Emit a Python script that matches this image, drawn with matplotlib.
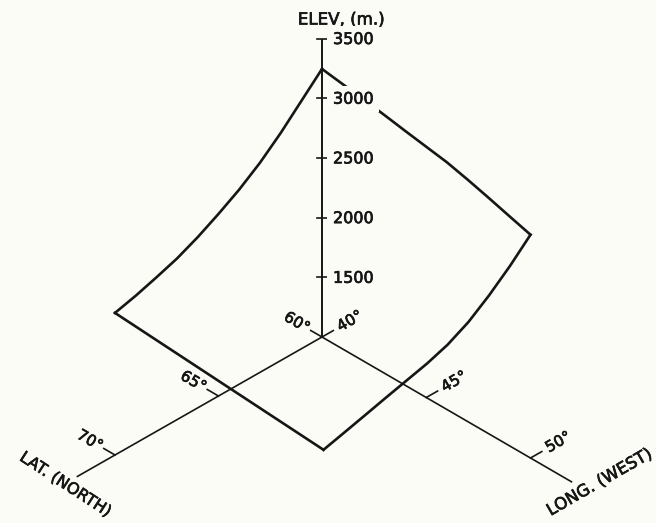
import numpy as np
import matplotlib.pyplot as plt
import matplotlib.patheffects as pe

# axis ticks
lat_ticks = [60, 65, 70]
long_ticks = [40, 45, 50]
elev_ticks = [1500, 2000, 2500, 3000, 3500]

# surface edges (lat N, long W, elevation m)
west_lat = [70, 69, 68, 67, 66, 65, 64, 63, 62, 61, 60]
west_elev = [2190, 2235, 2290, 2350, 2430, 2525, 2630, 2755, 2905, 3075, 3245]

north_long = [40, 41, 42, 43, 44, 45, 46, 47, 48, 49, 50]
north_elev = [3245, 3218, 3192, 3162, 3130, 3100, 3070, 3025, 2975, 2922, 2870]

east_lat = [60, 61, 62, 63, 64, 65, 66, 67, 68, 69, 70]
east_elev = [2870, 2705, 2560, 2435, 2345, 2285, 2240, 2195, 2148, 2102, 2057]

south_long = [50, 40]
south_elev = [2057, 2190]

LAT0, LONG0, ELEV0 = 60, 40, 1000
LAT_END, LONG_END, ELEV_END = 71.85, 52.0, 3500

# oblique projection (figure pixels)
ORIGIN = np.array([322.0, 337.0])
LAT_VEC = np.array([-20.7, 11.8])
LONG_VEC = np.array([20.85, 12.1])
ELEV_VEC = np.array([0.0, -0.1194])


def proj(lat, lon, elev):
    lat = np.asarray(lat, float)
    lon = np.asarray(lon, float)
    elev = np.asarray(elev, float)
    x = ORIGIN[0] + LAT_VEC[0] * (lat - LAT0) + LONG_VEC[0] * (lon - LONG0) + ELEV_VEC[0] * (elev - ELEV0)
    y = ORIGIN[1] + LAT_VEC[1] * (lat - LAT0) + LONG_VEC[1] * (lon - LONG0) + ELEV_VEC[1] * (elev - ELEV0)
    return x, y


ink = '#161616'
bg = '#fcfcf7'
heavy = [pe.withStroke(linewidth=0.5, foreground=ink)]

fig = plt.figure(figsize=(6.56, 5.23), dpi=100, facecolor=bg)
ax = fig.add_axes([0, 0, 1, 1])
ax.set_xlim(0, 656)
ax.set_ylim(523, 0)
ax.axis('off')
ax.set_facecolor(bg)

# --- axes ---
axis_lw = 1.2
x, y = proj([LAT0, LAT_END], [LONG0, LONG0], [ELEV0, ELEV0])
ax.plot(x, y, color=ink, lw=axis_lw, solid_capstyle='butt')
x, y = proj([LAT0, LAT0], [LONG0, LONG_END], [ELEV0, ELEV0])
ax.plot(x, y, color=ink, lw=axis_lw, solid_capstyle='butt')
x, y = proj([LAT0, LAT0], [LONG0, LONG0], [ELEV0, ELEV_END])
ax.plot(x, y, color=ink, lw=axis_lw + 0.2, solid_capstyle='butt')

# elevation ticks
for e in elev_ticks:
    x, y = proj(LAT0, LONG0, e)
    ax.plot([x - 5.5, x + 5.5], [y, y], color=ink, lw=axis_lw)
    ax.text(x + 11, y + 1, str(e), fontsize=11.5, color=ink, ha='left', va='center',
            zorder=5, path_effects=heavy,
            bbox=dict(boxstyle='square,pad=0.35', fc=bg, ec='none'))

long_dir = LONG_VEC / np.linalg.norm(LONG_VEC)
lat_dir = LAT_VEC / np.linalg.norm(LAT_VEC)

# latitude ticks (drawn towards -long direction)
for t in lat_ticks:
    x, y = proj(t, LONG0, ELEV0)
    p = np.array([x, y])
    q = p - 13 * long_dir
    ax.plot([p[0], q[0]], [p[1], q[1]], color=ink, lw=axis_lw)
    c = p - 29 * long_dir
    ax.text(c[0], c[1], f'{t}°', fontsize=11, color=ink, rotation=-30,
            ha='center', va='center', rotation_mode='anchor', path_effects=heavy)

# longitude ticks (drawn towards -lat direction)
for t in long_ticks:
    x, y = proj(LAT0, t, ELEV0)
    p = np.array([x, y])
    q = p - 13 * lat_dir
    ax.plot([p[0], q[0]], [p[1], q[1]], color=ink, lw=axis_lw)
    c = p - 32 * lat_dir
    ax.text(c[0], c[1], f'{t}°', fontsize=11, color=ink, rotation=30,
            ha='center', va='center', rotation_mode='anchor', path_effects=heavy)

# axis names
x, y = proj(LAT0, LONG0, ELEV_END)
ax.text(x + 19, y - 19, 'ELEV, (m.)', fontsize=12, color=ink, ha='center', va='center',
        path_effects=heavy)
x, y = proj(LAT_END, LONG0, ELEV0)
ax.text(x - 11, y + 8, 'LAT. (NORTH)', fontsize=11.5, color=ink, rotation=-33,
        ha='center', va='center', rotation_mode='anchor', path_effects=heavy)
x, y = proj(LAT0, LONG_END, ELEV0)
ax.text(x + 27, y + 0, 'LONG. (WEST)', fontsize=12, color=ink, rotation=30,
        ha='center', va='center', rotation_mode='anchor', path_effects=heavy)

# --- surface outline ---
surf_lw = 1.9
for lats, lons, elevs in [
    (west_lat, [LONG0] * len(west_lat), west_elev),
    (np.full(len(north_long), 60), north_long, north_elev),
    (east_lat, np.full(len(east_lat), 50), east_elev),
    (np.full(len(south_long), 70), south_long, south_elev),
]:
    x, y = proj(lats, lons, elevs)
    ax.plot(x, y, color=ink, lw=surf_lw, solid_joinstyle='miter', zorder=3)

fig.savefig('out.png', dpi=100, facecolor=bg)
